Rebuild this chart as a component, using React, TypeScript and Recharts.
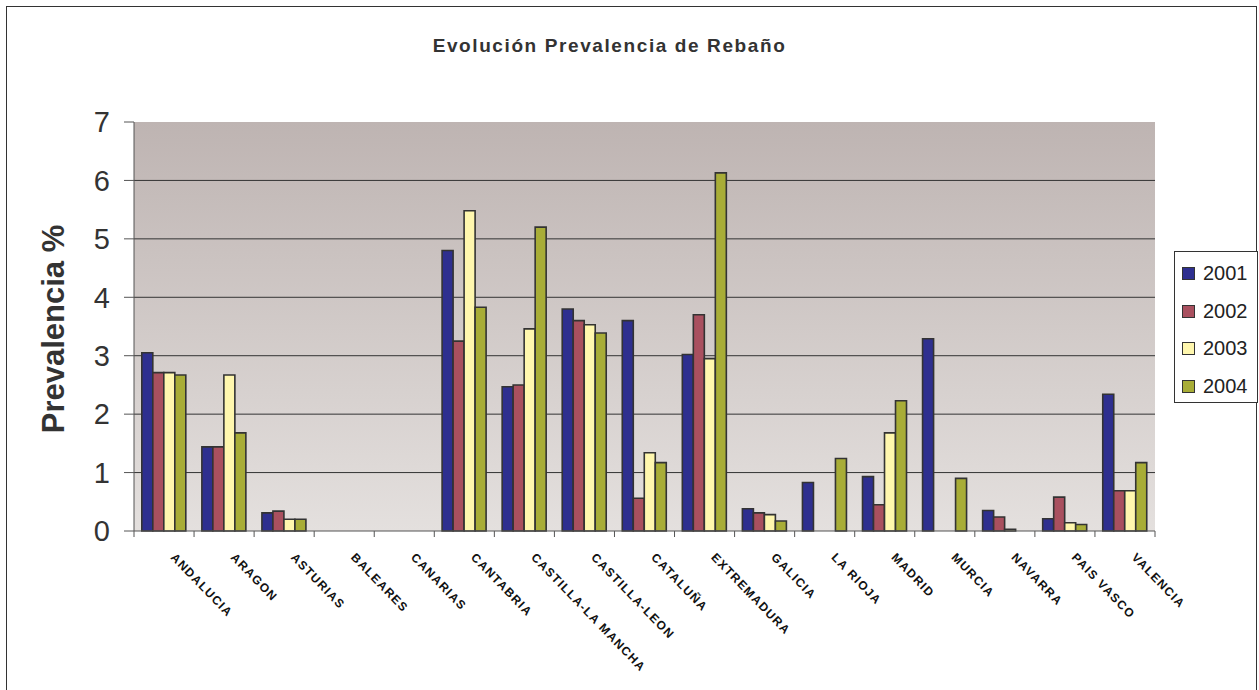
import React from 'react';
import { BarChart, Bar, XAxis, YAxis, CartesianGrid } from 'recharts';

const categories = ['ANDALUCIA', 'ARAGON', 'ASTURIAS', 'BALEARES', 'CANARIAS', 'CANTABRIA', 'CASTILLA-LA MANCHA', 'CASTILLA-LEON', 'CATALUÑA', 'EXTREMADURA', 'GALICIA', 'LA RIOJA', 'MADRID', 'MURCIA', 'NAVARRA', 'PAIS VASCO', 'VALENCIA'];
const v2001 = [3.05, 1.44, 0.31, 0, 0, 4.8, 2.47, 3.8, 3.6, 3.02, 0.38, 0.83, 0.93, 3.29, 0.35, 0.21, 2.34];
const v2002 = [2.71, 1.44, 0.34, 0, 0, 3.25, 2.5, 3.6, 0.56, 3.7, 0.31, 0, 0.45, 0, 0.24, 0.58, 0.69];
const v2003 = [2.71, 2.67, 0.2, 0, 0, 5.48, 3.46, 3.53, 1.34, 2.95, 0.28, 0, 1.68, 0, 0.03, 0.14, 0.69];
const v2004 = [2.67, 1.68, 0.2, 0, 0, 3.83, 5.2, 3.39, 1.17, 6.13, 0.17, 1.24, 2.23, 0.9, 0, 0.11, 1.17];
const yTicks = [0, 1, 2, 3, 4, 5, 6, 7];
const gridValues = [1, 2, 3, 4, 5, 6];

const seriesNames = ['2001', '2002', '2003', '2004'];
const seriesColors = ['#2E2F8F', '#A9505F', '#FFF7AE', '#A8AD37'];
const seriesValues = [v2001, v2002, v2003, v2004];

const data = categories.map((c, i) => {
  const row: any = { name: c };
  seriesNames.forEach((s, k) => { row[s] = seriesValues[k][i]; });
  return row;
});

const W = 1259;
const H = 690;
const XH = 159;
const M = { top: 122, right: 104, bottom: 0, left: 0 };
const YW = 134;
const PLOT_W = W - M.left - M.right - YW;
const FONT = '"Liberation Sans", Arial, sans-serif';

const XTick = (props: any) => {
  const { x, y, payload, index } = props;
  const band = PLOT_W / categories.length;
  const isLast = index === categories.length - 1;
  const tx = x + 6;
  const ty = y + 27;
  return (
    <g>
      <line x1={x - band / 2} y1={y} x2={x - band / 2} y2={y + 6} stroke="#555" strokeWidth={1} />
      {isLast && <line x1={x + band / 2} y1={y} x2={x + band / 2} y2={y + 6} stroke="#555" strokeWidth={1} />}
      <text
        x={tx}
        y={ty}
        transform={`rotate(46 ${tx} ${ty})`}
        textAnchor="start"
        fontFamily={FONT}
        fontSize={12}
        fontWeight="bold"
        fill="#111"
        letterSpacing={1.3}
      >
        {payload.value}
      </text>
    </g>
  );
};

export default function App() {
  return (
    <div style={{ position: 'absolute', left: 0, top: 0, width: W, height: H, overflow: 'hidden', background: '#fff' }}>
      <div style={{ position: 'absolute', left: 6, top: 6, width: 1251, height: 720, border: '1.5px solid #333', boxSizing: 'border-box' }} />
      <div style={{ position: 'absolute', left: 0, width: 1219, top: 35, textAlign: 'center', fontFamily: FONT, fontWeight: 'bold', fontSize: 19, color: '#333', letterSpacing: 1.6 }}>
        Evolución Prevalencia de Rebaño
      </div>
      <div style={{ position: 'absolute', left: 54, top: 329, transform: 'translate(-50%, -50%) rotate(-90deg)', whiteSpace: 'nowrap', fontFamily: FONT, fontWeight: 'bold', fontSize: 31, color: '#333' }}>
        Prevalencia %
      </div>
      <div style={{ position: 'absolute', left: 1174, top: 251, border: '1.5px solid #333', width: 84, height: 152, boxSizing: 'border-box', background: '#fff', paddingTop: 3 }}>
        {seriesNames.map((s, k) => (
          <div key={s} style={{ display: 'flex', alignItems: 'center', height: 37.5, paddingLeft: 7 }}>
            <span style={{ width: 13, height: 13, background: seriesColors[k], border: '1.5px solid #333', boxSizing: 'border-box', display: 'inline-block' }} />
            <span style={{ marginLeft: 8, fontFamily: FONT, fontSize: 20, color: '#222' }}>{s}</span>
          </div>
        ))}
      </div>
      <div style={{ position: 'absolute', left: 0, top: 0 }}>
        <BarChart width={W} height={H} data={data} margin={M} barCategoryGap="13%" barGap={0}>
          <defs>
            <linearGradient id="plotBg" x1="0" y1="0" x2="0" y2="1">
              <stop offset="0%" stopColor="#BEB4B2" />
              <stop offset="100%" stopColor="#E4E0DE" />
            </linearGradient>
          </defs>
          <CartesianGrid vertical={false} horizontalValues={gridValues} stroke="#333" strokeWidth={1} fill="url(#plotBg)" fillOpacity={1} />
          <XAxis
            dataKey="name"
            interval={0}
            tickLine={false}
            tickSize={0}
            tickMargin={0}
            axisLine={{ stroke: '#555', strokeWidth: 1 }}
            tick={<XTick />}
            height={XH}
          />
          <YAxis
            width={YW}
            domain={[0, 7]}
            ticks={yTicks}
            interval={0}
            tickSize={10}
            tickMargin={14}
            axisLine={{ stroke: '#555', strokeWidth: 1 }}
            tickLine={{ stroke: '#555', strokeWidth: 1 }}
            tick={{ fontFamily: FONT, fontSize: 29, fill: '#333' }}
          />
          {seriesNames.map((s, k) => (
            <Bar key={s} dataKey={s} name={s} fill={seriesColors[k]} stroke="#333" strokeWidth={1.6} isAnimationActive={false} />
          ))}
        </BarChart>
      </div>
    </div>
  );
}
